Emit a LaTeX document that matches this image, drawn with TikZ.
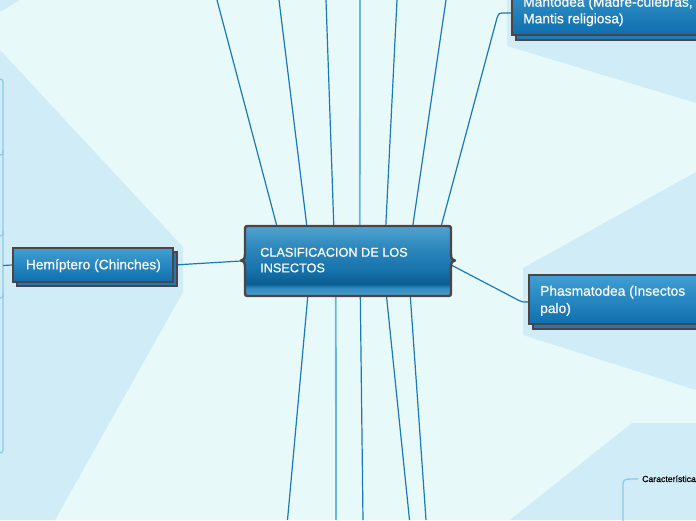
\documentclass[tikz,border=0pt]{standalone}
\usepackage{fontspec}
\setmainfont{Liberation Sans}
\newfontfamily\medfont{Liberation Sans}[FakeBold=0.45]
\usetikzlibrary{backgrounds}
\definecolor{bg}{HTML}{E8F9FA}
\definecolor{shadeblue}{HTML}{D0ECF6}
\definecolor{conn}{HTML}{1A7AB7}
\definecolor{connlight}{HTML}{6AB5DC}
\definecolor{faint}{HTML}{8CCBE8}
\definecolor{border}{HTML}{4D4447}
\definecolor{subtop}{HTML}{419FD4}
\definecolor{subbot}{HTML}{0E6FAD}
\definecolor{subback}{HTML}{1B7CBD}
\definecolor{cA}{HTML}{4597C7}
\definecolor{cB}{HTML}{2F8BC0}
\definecolor{cC}{HTML}{0A5D90}
\definecolor{cD}{HTML}{0E6499}
\definecolor{cE}{HTML}{1773AB}
\definecolor{cF}{HTML}{2A85BB}
\definecolor{cG}{HTML}{4FA3CF}
\pgfdeclareverticalshading{centreshade}{100bp}{color(0bp)=(cA); color(25bp)=(cA); color(27bp)=(cA); color(30.7bp)=(cB); color(33.6bp)=(cC); color(37bp)=(cD); color(43.6bp)=(cE); color(58bp)=(cF); color(75bp)=(cG); color(100bp)=(cG)}
\begin{document}
\begin{tikzpicture}[x=1pt,y=-1pt,
  conline/.style={draw=conn, line width=1.2pt},
  conlight/.style={draw=connlight, line width=1.8pt},
  faintline/.style={draw=faint, line width=1.3pt},
  subbox/.style={draw=border, line width=2pt, top color=subtop, bottom color=subbot, rectangle, inner sep=0pt},
  backbox/.style={draw=border, line width=2pt, fill=subback, rectangle, inner sep=0pt},
  subtext/.style={text=white, inner sep=0pt, anchor=base west, font=\medfont\fontsize{13.8}{16}\selectfont},
  centretext/.style={text=white, inner sep=0pt, anchor=base west, font=\medfont\fontsize{12.7}{15}\selectfont},
  smalltext/.style={text=black, inner sep=0pt, anchor=base west, font=\medfont\fontsize{8.7}{10}\selectfont}
]
\useasboundingbox (0,0) rectangle (696,520);
\clip (0,0) rectangle (696,520);

% central node (invisible anchor box)
\node[inner sep=0pt, minimum width=206pt, minimum height=70pt] (c) at (348,261) {};

% sub nodes
\node[backbox, minimum width=160pt, minimum height=34pt] (hemiB) at (97,268.5) {};
\node[subbox, minimum width=160pt, minimum height=34pt] (hemi) at (93,265) {};
\node[backbox, minimum width=228pt, minimum height=60pt] (mantB) at (630,10) {};
\node[subbox, minimum width=228pt, minimum height=60pt] (mant) at (626,5) {};
\node[backbox, minimum width=231pt, minimum height=49pt] (phasB) at (648.5,304) {};
\node[subbox, minimum width=231pt, minimum height=49pt] (phas) at (644.5,299.5) {};

% free ends
\coordinate (u1) at (217,0);
\coordinate (u2) at (279,0);
\coordinate (u3) at (326,0);
\coordinate (u4) at (360,0);
\coordinate (u5) at (397,0);
\coordinate (u6) at (446,0);
\coordinate (d1) at (287.5,520);
\coordinate (d2) at (336,520);
\coordinate (d3) at (363,520);
\coordinate (d4) at (409.5,520);
\coordinate (d5) at (426,520);

\begin{scope}[on background layer]
\fill[bg] (0,0) rectangle (696,520);
\fill[shadeblue] (0,0) -- (20,0) -- (0,12) -- cycle;
\fill[shadeblue] (0,50) -- (183,247) -- (183,292) -- (55,520) -- (0,520) -- cycle;
\fill[shadeblue] (507,0) -- (696,0) -- (696,103) -- (507,46) -- cycle;
\fill[shadeblue] (523,268) -- (696,172) -- (696,390) -- (523,335) -- cycle;
\fill[shadeblue] (632,423) -- (696,423) -- (696,520) -- (510,520) -- cycle;

\draw[conline] ([xshift=32pt]c.north west) -- (u1);
\draw[conline] ([xshift=62pt]c.north west) -- (u2);
\draw[conline] ([xshift=89pt]c.north west) -- (u3);
\draw[conlight] ([xshift=115pt]c.north west) -- (u4);
\draw[conline] ([xshift=141pt]c.north west) -- (u5);
\draw[conline] ([xshift=168pt]c.north west) -- (u6);
\draw[conline] ([xshift=196.5pt]c.north west) -- (497,18) .. controls (499,13) .. (505,13) -- ([yshift=-8pt]mant.west);
\draw[conline] ([xshift=63pt]c.south west) -- (d1);
\draw[conlight] ([xshift=91pt]c.south west) -- (d2);
\draw[conline] ([xshift=115.5pt]c.south west) -- (d3);
\draw[conline] ([xshift=141.7pt]c.south west) -- (d4);
\draw[conline] ([xshift=165.5pt]c.south west) -- (d5);
\draw[conline] (hemi.east) -- ([xshift=-4pt]c.west);
\draw[conline] ([yshift=-4pt]c.east) -- (519,300.5) .. controls (522,302) .. ([yshift=-2.5pt]phas.west);

\draw[faintline] (-4,79) .. controls (3,79) .. (3,85) -- (3,447) .. controls (3,453) .. (-4,453);
\draw[faintline] (3,150) .. controls (3,155) .. (-3,155);
\draw[faintline] (3,231) .. controls (3,236) .. (-3,236);
\draw[faintline] (3,293) .. controls (3,298) .. (-3,298);
\draw[conline] (3,265.5) -- (hemi.west);
\end{scope}

% central shape
\shadedraw[shading=centreshade, draw=border, line width=2.4pt, line join=round]
  (250,226) -- (446,226) .. controls (451,226) .. (451,231) -- (451,254)
  .. controls (451,259) and (452.5,260.5) .. (455,260.5)
  .. controls (452.5,260.5) and (451,262) .. (451,267) -- (451,291)
  .. controls (451,296) .. (446,296) -- (250,296) .. controls (245,296) .. (245,291)
  -- (245,267) .. controls (245,262) and (243.5,260.5) .. (241,260.5)
  .. controls (243.5,260.5) and (245,259) .. (245,254) -- (245,231)
  .. controls (245,226) .. (250,226) -- cycle;

% texts
\node[centretext] (ct1) at (260,256.7) {CLASIFICACION DE LOS};
\node[centretext] (ct2) at (260,272.3) {INSECTOS};
\node[subtext] (hemiT) at (25.7,269.3) {Hemíptero (Chinches)};
\node[subtext] (mantT1) at (523,6.7) {Mantodea (Madre-culebras,};
\node[subtext] (mantT2) at (523,23.3) {Mantis religiosa)};
\node[subtext] (phasT1) at (540,295.7) {Phasmatodea (Insectos};
\node[subtext] (phasT2) at (540,313) {palo)};

% Caracteristicas
\node[smalltext] (car) at (642,482) {Características};
\draw[faintline, rounded corners=4pt] ([xshift=-4pt]car.west) -- (623,479.3) -- (623,525);
\end{tikzpicture}
\end{document}
